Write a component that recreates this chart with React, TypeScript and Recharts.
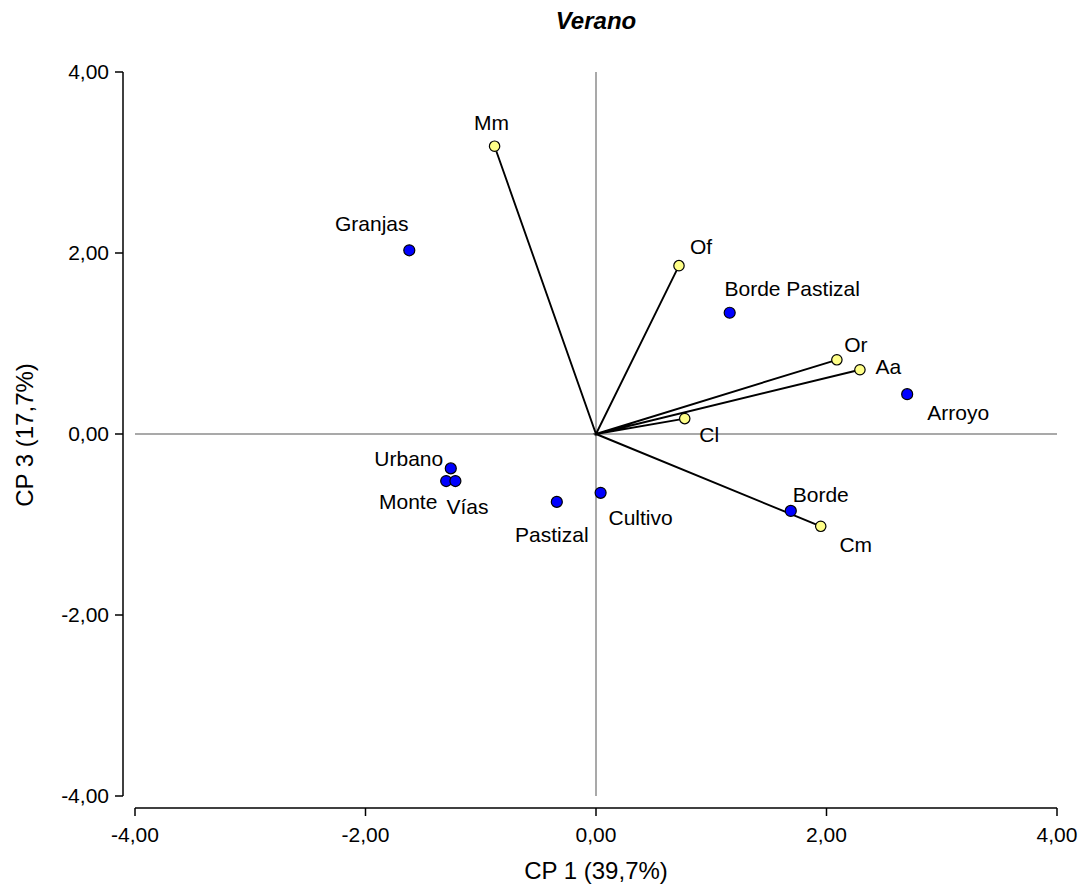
import React from 'react';
import { ScatterChart, Scatter, XAxis, YAxis, ReferenceLine } from 'recharts';

// ---- data ----
const chartTitle = 'Verano';
const xAxisTitle = 'CP 1 (39,7%)';
const yAxisTitle = 'CP 3 (17,7%)';
const axisTicks = [-4, -2, 0, 2, 4];

const siteNames = ['Granjas', 'Borde Pastizal', 'Arroyo', 'Urbano', 'Monte', 'Vías', 'Pastizal', 'Cultivo', 'Borde'];
const siteCP1 = [-1.62, 1.16, 2.70, -1.26, -1.30, -1.22, -0.34, 0.04, 1.69];
const siteCP3 = [2.03, 1.34, 0.44, -0.38, -0.52, -0.52, -0.75, -0.65, -0.85];

const varNames = ['Mm', 'Of', 'Or', 'Aa', 'Cl', 'Cm'];
const varCP1 = [-0.88, 0.72, 2.09, 2.29, 0.77, 1.95];
const varCP3 = [3.18, 1.86, 0.82, 0.71, 0.17, -1.02];

// ---- layout / style (label offsets in px relative to the point) ----
const labelOffsets: Record<string, [number, number]> = {
  Granjas: [-37.5, -26.5],
  'Borde Pastizal': [62.5, -24.5],
  Arroyo: [51, 18],
  Urbano: [-42, -9.5],
  Monte: [-38, 20],
  'Vías': [12, 25],
  Pastizal: [-5, 32.5],
  Cultivo: [40, 25],
  Borde: [30, -16.5],
  Mm: [-3, -23.5],
  Of: [22, -19],
  Or: [19, -15.5],
  Aa: [28.5, -3],
  Cl: [24.5, 16],
  Cm: [35, 18],
};

const FONT = '"Liberation Sans", Arial, Helvetica, sans-serif';
const AXIS_GAP = 12;

const siteData = siteNames.map((name, i) => ({ name, x: siteCP1[i], y: siteCP3[i] }));
const varData = varNames.map((name, i) => ({ name, x: varCP1[i], y: varCP3[i] }));
const vectorPath = varData.flatMap((v) => [{ x: 0, y: 0 }, { x: v.x, y: v.y }]);

const fmt = (v: number) => v.toFixed(2).replace('.', ',');

const makeShape = (fill: string, r: number) => (props: any) => {
  const { cx, cy, payload } = props;
  const off = labelOffsets[payload.name] || [0, -18];
  return (
    <g>
      <circle cx={cx} cy={cy} r={r} fill={fill} stroke="#000" strokeWidth={1.2} />
      <text
        x={cx + off[0]}
        y={cy + off[1]}
        dy="0.36em"
        textAnchor="middle"
        fontSize={21}
        fontFamily={FONT}
        fill="#000"
      >
        {payload.name}
      </text>
    </g>
  );
};

const XTitle = (props: any) => {
  const vb = props.viewBox || { x: 135, y: 796, width: 922, height: 90 };
  return (
    <text x={vb.x + vb.width / 2} y={vb.y + 83} textAnchor="middle" fontSize={24} fontFamily={FONT} fill="#000">
      {xAxisTitle}
    </text>
  );
};

const YTitle = (props: any) => {
  const vb = props.viewBox || { x: 0, y: 72, width: 135, height: 724 };
  const x = vb.x + 32.5;
  const y = vb.y + vb.height / 2 + 1;
  return (
    <text x={x} y={y} transform={`rotate(-90, ${x}, ${y})`} textAnchor="middle" fontSize={24} fontFamily={FONT} fill="#000">
      {yAxisTitle}
    </text>
  );
};

const css = `
body { margin: 0; }
.recharts-xAxis .recharts-cartesian-axis-line,
.recharts-xAxis .recharts-cartesian-axis-tick-line { transform: translateY(${AXIS_GAP}px); }
.recharts-yAxis .recharts-cartesian-axis-line,
.recharts-yAxis .recharts-cartesian-axis-tick-line { transform: translateX(-${AXIS_GAP}px); }
`;

export default function App() {
  return (
    <div style={{ width: 1086, height: 886, background: '#fff', fontFamily: FONT }}>
      <style>{css}</style>
      <ScatterChart width={1086} height={886} margin={{ top: 72, right: 29, bottom: 0, left: 0 }}>
        <XAxis
          type="number"
          dataKey="x"
          domain={[-4, 4]}
          ticks={axisTicks}
          tickFormatter={fmt}
          height={90}
          tickSize={8}
          tickMargin={11 + AXIS_GAP}
          axisLine={{ stroke: '#000', strokeWidth: 1.5 }}
          tickLine={{ stroke: '#000', strokeWidth: 1.5 }}
          tick={{ fill: '#000', fontSize: 21, fontFamily: FONT }}
          label={XTitle}
        />
        <YAxis
          type="number"
          dataKey="y"
          domain={[-4, 4]}
          ticks={axisTicks}
          tickFormatter={fmt}
          width={135}
          tickSize={8}
          tickMargin={6 + AXIS_GAP}
          axisLine={{ stroke: '#000', strokeWidth: 1.5 }}
          tickLine={{ stroke: '#000', strokeWidth: 1.5 }}
          tick={{ fill: '#000', fontSize: 21, fontFamily: FONT }}
          label={YTitle}
        />
        <ReferenceLine x={0} stroke="#8c8c8c" strokeWidth={1.5} />
        <ReferenceLine y={0} stroke="#8c8c8c" strokeWidth={1.5} />
        <Scatter
          data={vectorPath}
          line={{ stroke: '#000', strokeWidth: 1.9 }}
          shape={() => <g />}
          isAnimationActive={false}
        />
        <Scatter data={siteData} shape={makeShape('#0000ff', 5.5)} isAnimationActive={false} />
        <Scatter data={varData} shape={makeShape('#ffff88', 5.2)} isAnimationActive={false} />
        <text x={596} y={28.5} textAnchor="middle" fontSize={24} fontWeight="bold" fontStyle="italic" fontFamily={FONT} fill="#000">
          {chartTitle}
        </text>
      </ScatterChart>
    </div>
  );
}
